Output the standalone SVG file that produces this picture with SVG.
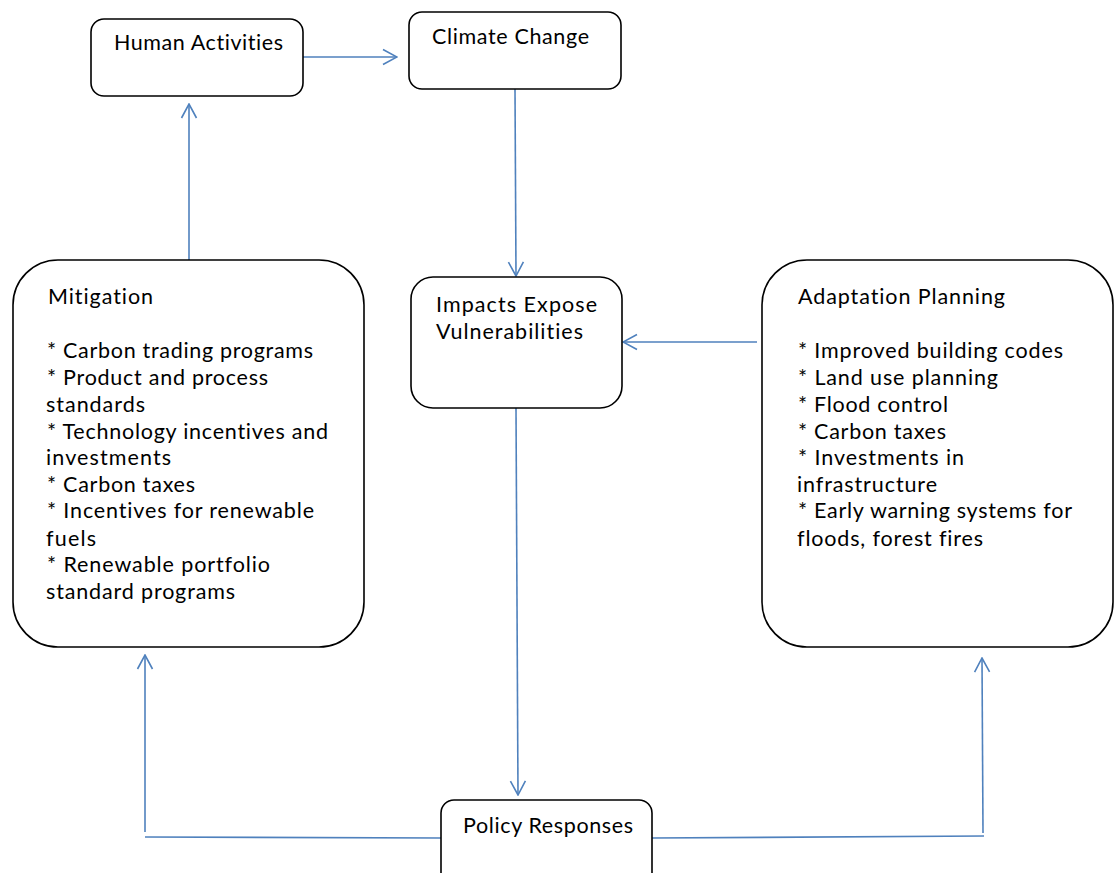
<svg xmlns="http://www.w3.org/2000/svg" width="1120" height="873" viewBox="0 0 1120 873">
  <style>
    .box { fill: #ffffff; stroke: #000000; stroke-width: 1.6; }
    .label { font-family: Lato, "Open Sans", "Liberation Sans", sans-serif; font-size: 21.5px; fill: #000000; font-variant-ligatures: none; font-feature-settings: "liga" 0; }
    .link { fill: none; stroke: #4f81bd; stroke-width: 1.6; }
  </style>
  <defs>
    <marker id="open-arrow" viewBox="0 0 16 18" refX="15" refY="9" markerWidth="16" markerHeight="18" markerUnits="userSpaceOnUse" orient="auto">
      <path d="M1,1.5 L15,9 L1,16.5" fill="none" stroke="#4f81bd" stroke-width="1.6"/>
    </marker>
  </defs>

  <rect width="1120" height="873" fill="#ffffff"/>

  <!-- connectors -->
  <g id="connectors">
    <line class="link" x1="303" y1="57" x2="397" y2="57" marker-end="url(#open-arrow)"/>
    <line class="link" x1="515" y1="89" x2="516" y2="276" marker-end="url(#open-arrow)"/>
    <line class="link" x1="757" y1="342" x2="623" y2="342" marker-end="url(#open-arrow)"/>
    <line class="link" x1="189" y1="261" x2="189" y2="104" marker-end="url(#open-arrow)"/>
    <line class="link" x1="516" y1="408" x2="518" y2="795" marker-end="url(#open-arrow)"/>
    <line class="link" x1="441" y1="838" x2="145" y2="837"/>
    <line class="link" x1="145" y1="832" x2="145" y2="655" marker-end="url(#open-arrow)"/>
    <line class="link" x1="652" y1="838" x2="984" y2="836"/>
    <line class="link" x1="983" y1="833" x2="982" y2="658" marker-end="url(#open-arrow)"/>
  </g>

  <!-- Human Activities -->
  <g id="human-activities">
    <rect class="box" x="91" y="19" width="212" height="77" rx="13"/>
    <text class="label" x="114" y="50" textLength="169" lengthAdjust="spacing">Human Activities</text>
  </g>

  <!-- Climate Change -->
  <g id="climate-change">
    <rect class="box" x="409" y="12" width="212" height="77" rx="13"/>
    <text class="label" x="432" y="44" textLength="157" lengthAdjust="spacing">Climate Change</text>
  </g>

  <!-- Impacts Expose Vulnerabilities -->
  <g id="impacts">
    <rect class="box" x="411" y="277" width="211" height="131" rx="22"/>
    <text class="label" x="436" y="312" textLength="161" lengthAdjust="spacing">Impacts Expose</text>
    <text class="label" x="436" y="339" textLength="147" lengthAdjust="spacing">Vulnerabilities</text>
  </g>

  <!-- Mitigation -->
  <g id="mitigation">
    <rect class="box" x="13" y="260" width="351" height="387" rx="45"/>
    <text class="label" x="48" y="304" textLength="105" lengthAdjust="spacing">Mitigation</text>
    <text class="label" x="47" y="358" textLength="266" lengthAdjust="spacing">* Carbon trading programs</text>
    <text class="label" x="47" y="385" textLength="221" lengthAdjust="spacing">* Product and process</text>
    <text class="label" x="46" y="412" textLength="99" lengthAdjust="spacing">standards</text>
    <text class="label" x="47" y="439" textLength="281" lengthAdjust="spacing">* Technology incentives and</text>
    <text class="label" x="46" y="465" textLength="125" lengthAdjust="spacing">investments</text>
    <text class="label" x="47" y="492" textLength="148" lengthAdjust="spacing">* Carbon taxes</text>
    <text class="label" x="47" y="518" textLength="267" lengthAdjust="spacing">* Incentives for renewable</text>
    <text class="label" x="46" y="546" textLength="50" lengthAdjust="spacing">fuels</text>
    <text class="label" x="47" y="572" textLength="223" lengthAdjust="spacing">* Renewable portfolio</text>
    <text class="label" x="46" y="599" textLength="189" lengthAdjust="spacing">standard programs</text>
  </g>

  <!-- Adaptation Planning -->
  <g id="adaptation">
    <rect class="box" x="762" y="260" width="351" height="387" rx="45"/>
    <text class="label" x="798" y="304" textLength="207" lengthAdjust="spacing">Adaptation Planning</text>
    <text class="label" x="798" y="358" textLength="265" lengthAdjust="spacing">* Improved building codes</text>
    <text class="label" x="798" y="385" textLength="200" lengthAdjust="spacing">* Land use planning</text>
    <text class="label" x="798" y="412" textLength="150" lengthAdjust="spacing">* Flood control</text>
    <text class="label" x="798" y="439" textLength="148" lengthAdjust="spacing">* Carbon taxes</text>
    <text class="label" x="798" y="465" textLength="166" lengthAdjust="spacing">* Investments in</text>
    <text class="label" x="797" y="492" textLength="140" lengthAdjust="spacing">infrastructure</text>
    <text class="label" x="798" y="518" textLength="274" lengthAdjust="spacing">* Early warning systems for</text>
    <text class="label" x="797" y="546" textLength="186" lengthAdjust="spacing">floods, forest fires</text>
  </g>

  <!-- Policy Responses -->
  <g id="policy-responses">
    <rect class="box" x="441" y="800" width="211" height="95" rx="13"/>
    <text class="label" x="463" y="833" textLength="170" lengthAdjust="spacing">Policy Responses</text>
  </g>
</svg>
